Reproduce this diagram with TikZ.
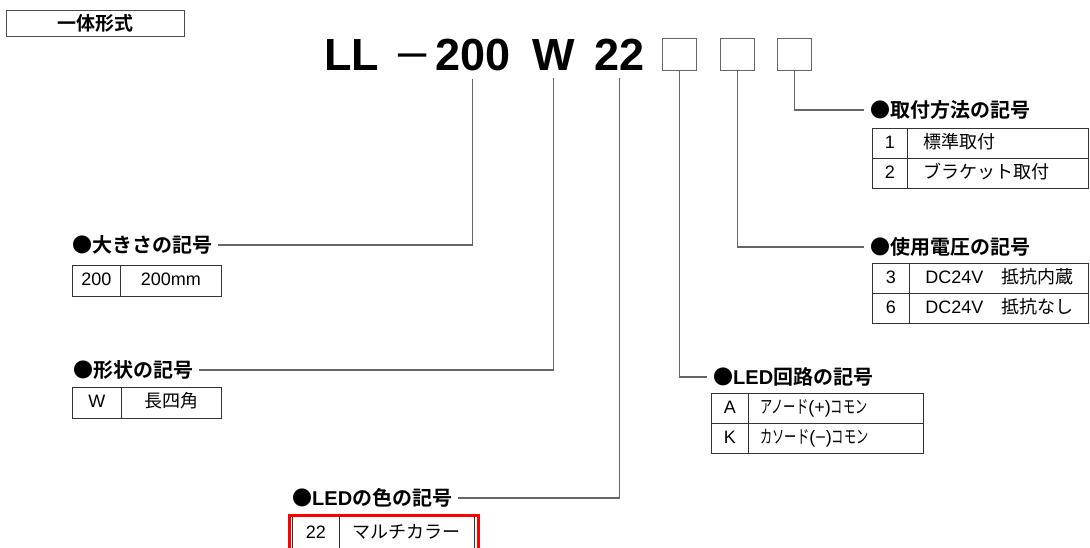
\documentclass[tikz,border=0pt]{standalone}
\usepackage{fontspec}
\setmainfont{Liberation Sans}
\newfontfamily\jp{Noto Sans CJK JP}[BoldFont={Noto Sans CJK JP Bold}]
\newcommand{\narrowjp}[1]{\scalebox{0.68}[1]{\jp #1}}
\begin{document}
\begin{tikzpicture}[x=1pt,y=-1pt,
  conn/.style={draw=black!60, line width=1.2pt},
  ttl/.style={inner sep=0, anchor=base west, font=\bfseries\fontsize{45}{45}\selectfont},
  codebox/.style={draw=black!60, line width=1.3pt, minimum width=34, minimum height=32, inner sep=0, anchor=north west},
  lab/.style={inner xsep=6pt, inner ysep=0, anchor=west, text height=16, text depth=2, font=\bfseries\fontsize{20}{20}\selectfont},
  cellL/.style={draw=black!80, line width=0.9pt, inner sep=0, anchor=north west, text height=13, text depth=3, font=\fontsize{18}{18}\selectfont},
  cellR/.style={cellL, align=left, inner xsep=16pt}
]
\useasboundingbox (0,0) rectangle (1090,547);

% header box
\node[draw=black!70, line width=1.2pt, minimum width=178, minimum height=26, inner sep=0, anchor=north west,
      font=\jp\bfseries\fontsize{19}{19}\selectfont] (kind) at (6,10) {一体形式};

% model code
\node[ttl] (tLL) at (324,70) {LL};
\node[inner sep=0, anchor=base west, font=\fontsize{45}{45}\selectfont] (tdash) at (395,70) {\scalebox{1.3}[1]{−}};
\node[ttl] (t200) at (435,70) {200};
\node[ttl] (tW) at (532,70) {W};
\node[ttl] (t22) at (594,70) {22};
\node[codebox] (b1) at (662,38) {};
\node[codebox] (b2) at (720,38) {};
\node[codebox] (b3) at (777,38) {};

% labels
\node[lab] (l200) at (66,245) {{\jp ●大きさの記号}};
\node[lab] (lW) at (67,370) {{\jp ●形状の記号}};
\node[lab] (lcol) at (286,498) {{\jp ●}LED{\jp の色の記号}};
\node[lab] (lcirc) at (707,377) {{\jp ●}LED{\jp 回路の記号}};
\node[lab] (lvolt) at (864,247) {{\jp ●使用電圧の記号}};
\node[lab] (lmount) at (864,110) {{\jp ●取付方法の記号}};

% connectors
\draw[conn] ([yshift=-8pt]t200.south) |- (l200.east);
\draw[conn] ([yshift=-8pt]tW.south) |- (lW.east);
\draw[conn] ([yshift=-8pt]t22.south) |- (lcol.east);
\draw[conn] (b1.south) |- (lcirc.west);
\draw[conn] (b2.south) |- (lvolt.west);
\draw[conn] (b3.south) |- (lmount.west);

% size table
\node[cellL, minimum width=48, minimum height=31] (s1) at (72,265) {200};
\node[cellL, minimum width=101, minimum height=31] (s2) at (120,265) {200mm};

% shape table
\node[cellL, minimum width=49, minimum height=31] (w1) at (72,387) {W};
\node[cellL, minimum width=100, minimum height=31] (w2) at (121,387) {\jp 長四角};

% colour table
\node[cellL, minimum width=47, minimum height=34] (c1) at (292,516) {22};
\node[cellL, minimum width=135, minimum height=34] (c2) at (339,516) {\jp マルチカラー};
\node[draw=red, line width=3pt, minimum width=189, minimum height=45, inner sep=0, anchor=north west] (hl) at (287.5,513.5) {};

% circuit table
\node[cellL, minimum width=37, minimum height=30] (r1) at (711,393) {A};
\node[cellL, minimum height=30, inner xsep=12pt, align=left, text width=151] (r2) at (748,393) {\narrowjp{アノード}(+)\narrowjp{コモン}};
\node[cellL, minimum width=37, minimum height=30] (r3) at (711,423) {K};
\node[cellL, minimum height=30, inner xsep=12pt, align=left, text width=151] (r4) at (748,423) {\narrowjp{カソード}(−)\narrowjp{コモン}};

% voltage table
\node[cellL, minimum width=37, minimum height=30] (v1) at (872,263) {3};
\node[cellR, minimum height=30, text width=147] (v2) at (909,263) {\rlap{DC24V\hspace{18pt}{\jp 抵抗内蔵}}};
\node[cellL, minimum width=37, minimum height=30] (v3) at (872,293) {6};
\node[cellR, minimum height=30, text width=147] (v4) at (909,293) {\rlap{DC24V\hspace{18pt}{\jp 抵抗なし}}};

% mounting table
\node[cellL, minimum width=35, minimum height=30] (m1) at (872,128) {1};
\node[cellR, minimum height=30, text width=149] (m2) at (907,128) {\jp 標準取付};
\node[cellL, minimum width=35, minimum height=30] (m3) at (872,158) {2};
\node[cellR, minimum height=30, text width=149] (m4) at (907,158) {\jp ブラケット取付};
\end{tikzpicture}
\end{document}
